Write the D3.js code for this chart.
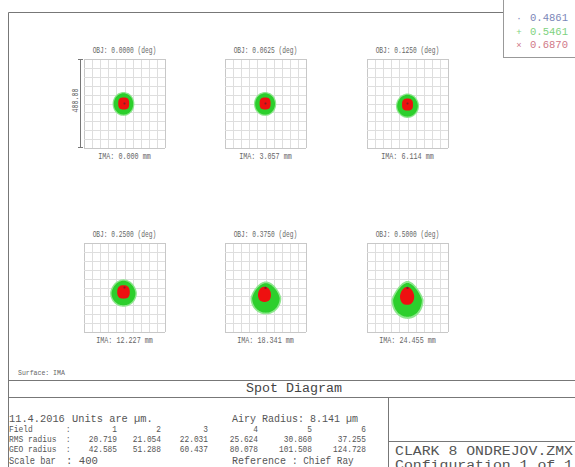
<!DOCTYPE html>
<html>
<head>
<meta charset="utf-8">
<script src="https://cdn.jsdelivr.net/npm/d3@7"></script>
<style>
  body { margin: 0; background: #fff; }
  svg { display: block; }
  text { font-family: "Liberation Mono", "DejaVu Sans Mono", monospace; }
</style>
</head>
<body>
<div id="chart"></div>
<script>

// field data
const fieldAngles = ["0.0000", "0.0625", "0.1250", "0.2500", "0.3750", "0.5000"];
const imaHeights = ["0.000", "3.057", "6.114", "12.227", "18.341", "24.455"];
const fieldNums = ["1", "2", "3", "4", "5", "6"];
const rmsRadius = ["20.719", "21.054", "22.031", "25.624", "30.860", "37.255"];
const geoRadius = ["42.585", "51.288", "60.437", "80.078", "101.508", "124.728"];
const wavelengths = ["0.4861", "0.5461", "0.6870"];
const gridTicks = [-200, -160, -120, -80, -40, 0, 40, 80, 120, 160, 200];

// spot outlines in um (x, y = centre, rx/ry = half sizes, taper = coma point, sq = squareness)
const spots4861 = [
    {x: 0, y: 0, rx: 5, ry: 5, taper: 0, sq: 2},
    {x: 0, y: 0, rx: 5, ry: 5, taper: 0, sq: 2},
    {x: 0, y: 0, rx: 5, ry: 5, taper: 0, sq: 2},
    {x: 0, y: 0, rx: 5, ry: 5, taper: 0, sq: 2},
    {x: 0, y: -2, rx: 6, ry: 5, taper: 0, sq: 2},
    {x: 0, y: -2, rx: 6, ry: 5, taper: 0, sq: 2}
];
const spots5461 = [
    {x: -5, y: -2, rx: 48, ry: 48, taper: 0, sq: 2},
    {x: -2, y: -2, rx: 49, ry: 48, taper: 0, sq: 2},
    {x: 0, y: -10, rx: 51, ry: 49, taper: 0.05, sq: 2},
    {x: -5, y: -25, rx: 59, ry: 55, taper: 0.1, sq: 2},
    {x: 2, y: -47, rx: 68, ry: 66, taper: 0.25, sq: 2},
    {x: 0, y: -56, rx: 71, ry: 76, taper: 0.35, sq: 2}
];
const spots6870 = [
    {x: -4, y: 0, rx: 27, ry: 27, taper: 0, sq: 2.8},
    {x: -2, y: 0, rx: 27, ry: 27, taper: 0, sq: 2.8},
    {x: 0, y: -5, rx: 27, ry: 27, taper: 0, sq: 2.8},
    {x: -5, y: -20, rx: 31, ry: 30, taper: 0.05, sq: 2.6},
    {x: -5, y: -31, rx: 32, ry: 34, taper: 0.15, sq: 2.4},
    {x: -2, y: -38, rx: 35, ry: 40, taper: 0.25, sq: 2.3}
];

const colLeft = [84, 225, 367];
const rowTop = [59, 243];
const boxW = 81, boxH = 89;

const svg = d3.select("#chart")
    .append("svg")
    .attr("width", 575)
    .attr("height", 467);

svg.append("rect").attr("width", 575).attr("height", 467).attr("fill", "#fff");

const spotPath = (s, xs, ys, grow) => {
    let pts = d3.range(0, 72).map(k => {
        let t = k / 72 * 2 * Math.PI;
        let c = Math.cos(t), sn = Math.sin(t);
        let e = 2 / s.sq;
        let cx = Math.sign(c) * Math.pow(Math.abs(c), e);
        let sy = Math.sign(sn) * Math.pow(Math.abs(sn), e);
        let squeeze = sn > 0 ? 1 - s.taper * sn : 1;
        return [xs(s.x + s.rx * grow * cx * squeeze), ys(s.y + s.ry * grow * sy)];
    });
    return d3.line().curve(d3.curveCardinalClosed)(pts);
};

const smallLabel = (g, x, y, str, perChar) => {
    g.append("text")
        .attr("x", x)
        .attr("y", y)
        .attr("text-anchor", "middle")
        .attr("font-size", 8.5)
        .attr("fill", "#666")
        .attr("textLength", str.length * perChar)
        .attr("lengthAdjust", "spacingAndGlyphs")
        .text(str);
};

// the six spot panels
fieldAngles.forEach((ang, i) => {
    let left = colLeft[i % 3];
    let top = rowTop[Math.floor(i / 3)];
    let xs = d3.scaleLinear().domain([-200, 200]).range([left, left + boxW]);
    let ys = d3.scaleLinear().domain([200, -200]).range([top, top + boxH]);
    let g = svg.append("g").attr("class", "panel");

    g.selectAll("line.v")
        .data(gridTicks)
        .enter()
        .append("line")
        .attr("x1", d => Math.round(xs(d)) + 0.5)
        .attr("x2", d => Math.round(xs(d)) + 0.5)
        .attr("y1", ys(200))
        .attr("y2", ys(-200))
        .attr("stroke", (d, k) => (k === 0 || k === gridTicks.length - 1) ? "#c8c8c8" : "#dedede");
    g.selectAll("line.h")
        .data(gridTicks)
        .enter()
        .append("line")
        .attr("y1", d => Math.round(ys(d)) + 0.5)
        .attr("y2", d => Math.round(ys(d)) + 0.5)
        .attr("x1", xs(-200))
        .attr("x2", xs(200))
        .attr("stroke", (d, k) => (k === 0 || k === gridTicks.length - 1) ? "#c8c8c8" : "#dedede");

    // green halo + body, red, blue core
    g.append("path").attr("d", spotPath(spots5461[i], xs, ys, 1.12)).attr("fill", "#8ee68e");
    g.append("path").attr("d", spotPath(spots5461[i], xs, ys, 1)).attr("fill", "#2ccf2c");
    g.append("path").attr("d", spotPath(spots6870[i], xs, ys, 1)).attr("fill", "#ee1010");
    g.append("path").attr("d", spotPath(spots4861[i], xs, ys, 1)).attr("fill", "#552233").attr("opacity", 0.7);

    smallLabel(g, left + boxW / 2, top - 6, "OBJ: " + ang + " (deg)", 3.75);
    smallLabel(g, left + boxW / 2, top + boxH + 11, "IMA: " + imaHeights[i] + " mm", 4.05);

    if (i === 0) {
        let bx = left - 3.5;
        g.append("line").attr("x1", bx).attr("x2", bx).attr("y1", top).attr("y2", top + boxH).attr("stroke", "#777");
        g.append("line").attr("x1", bx - 2.5).attr("x2", bx + 2.5).attr("y1", top + 0.5).attr("y2", top + 0.5).attr("stroke", "#777");
        g.append("line").attr("x1", bx - 2.5).attr("x2", bx + 2.5).attr("y1", top + boxH - 0.5).attr("y2", top + boxH - 0.5).attr("stroke", "#777");
        g.append("text")
            .attr("transform", `translate(${bx - 3},${top + boxH / 2 - 3}) rotate(-90)`)
            .attr("text-anchor", "middle")
            .attr("font-size", 8.5)
            .attr("fill", "#666")
            .attr("textLength", 24)
            .attr("lengthAdjust", "spacingAndGlyphs")
            .text("400.00");
    }
});

// frame and title block
const frame = svg.append("g").attr("stroke", "#777").attr("fill", "none");
frame.append("line").attr("x1", 8.5).attr("x2", 8.5).attr("y1", 12.5).attr("y2", 467);
frame.append("line").attr("x1", 8.5).attr("x2", 575).attr("y1", 12.5).attr("y2", 12.5);
frame.append("line").attr("x1", 8.5).attr("x2", 575).attr("y1", 380.5).attr("y2", 380.5);
frame.append("line").attr("x1", 8.5).attr("x2", 575).attr("y1", 397.5).attr("y2", 397.5);
frame.append("line").attr("x1", 388.5).attr("x2", 388.5).attr("y1", 397.5).attr("y2", 467);
frame.append("line").attr("x1", 388.5).attr("x2", 575).attr("y1", 441.5).attr("y2", 441.5);

const addText = (x, y, str, size, perChar, color, anchor) => {
    svg.append("text")
        .attr("x", x)
        .attr("y", y)
        .attr("font-size", size)
        .attr("fill", color || "#555")
        .attr("text-anchor", anchor || "start")
        .attr("textLength", str.length * perChar)
        .attr("lengthAdjust", "spacingAndGlyphs")
        .text(str);
};

addText(18, 375, "Surface: IMA", 8, 3.9, "#666");
addText(294, 392, "Spot Diagram", 12, 8, "#444", "middle");

addText(9, 422, "11.4.2016", 11.5, 6.2);
addText(72, 422, "Units are \u00b5m.", 11.5, 6.2);
addText(232, 422, "Airy Radius: 8.141 \u00b5m", 11.5, 6);

const rowLabels = ["Field", "RMS radius", "GEO radius"];
const rowValues = [fieldNums, rmsRadius, geoRadius];
const colRight = [117, 161, 208, 258, 312, 366];
const rowY = [432, 442, 452];
rowLabels.forEach((lab, r) => {
    addText(9, rowY[r], lab, 9, 4.75);
    addText(66, rowY[r], ":", 9, 4.5);
    rowValues[r].forEach((v, c) => {
        addText(colRight[c], rowY[r], v, 9, 4.7, "#555", "end");
    });
});

addText(9, 464, "Scale bar", 11, 5.2);
addText(66, 464, ": 400", 11, 6.4);
addText(232, 464, "Reference", 11, 6);
addText(292, 464, ": Chief Ray", 11, 5.6);

addText(395, 455, "CLARK 8 ONDREJOV.ZMX", 12.5, 8.9);
addText(395, 469, "Configuration 1 of 1", 12.5, 8.9);

// wavelength legend
const legend = svg.append("g");
legend.append("rect")
    .attr("x", 503.5).attr("y", -1).attr("width", 80).attr("height", 58.5)
    .attr("fill", "#fff").attr("stroke", "#999");
const legendColors = ["#7b86b8", "#7ed27e", "#d07888"];
const legendMarks = ["\u00b7", "+", "\u00d7"];
wavelengths.forEach((w, k) => {
    let y = 21 + k * 13.5;
    legend.append("text").attr("x", 519).attr("y", y).attr("text-anchor", "middle")
        .attr("font-size", 9).attr("fill", legendColors[k]).text(legendMarks[k]);
    legend.append("text").attr("x", 530).attr("y", y).attr("font-size", 10.5)
        .attr("fill", legendColors[k]).attr("textLength", 38).attr("lengthAdjust", "spacingAndGlyphs").text(w);
});

</script>
</body>
</html>
